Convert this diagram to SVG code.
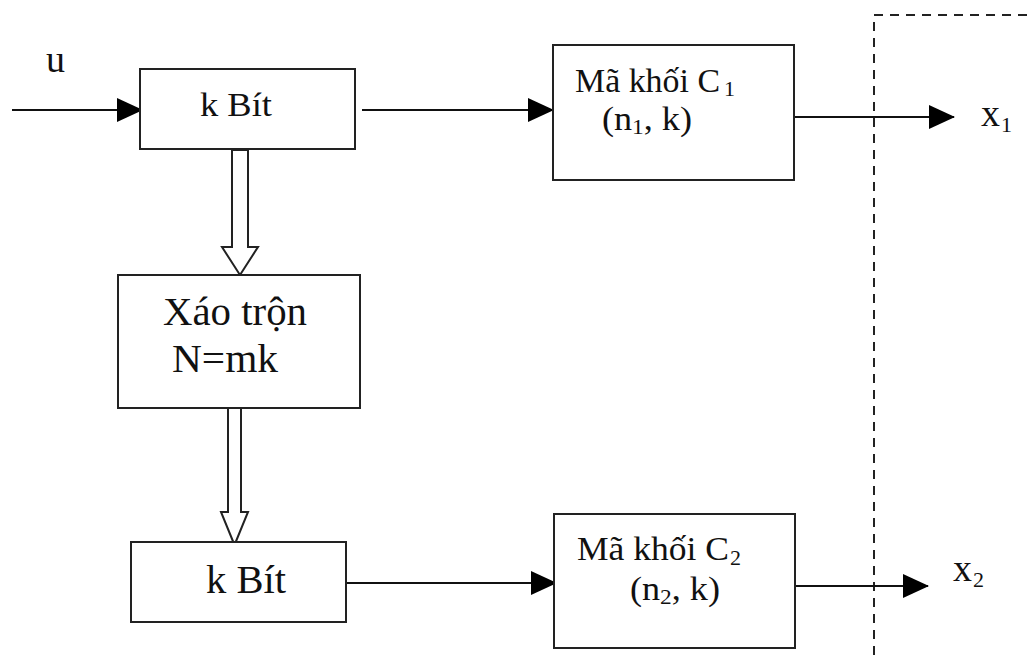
<svg xmlns="http://www.w3.org/2000/svg" width="1030" height="655" viewBox="0 0 1030 655">
  <style>
    .box { fill: #fff; stroke: #222; stroke-width: 2; }
    .wire { fill: none; stroke: #111; stroke-width: 2; }
    .hollow { fill: #fff; stroke: #222; stroke-width: 2; stroke-linejoin: miter; }
    .dash { fill: none; stroke: #222; stroke-width: 2; }
    text { font-family: "Liberation Serif", "Times New Roman", serif; fill: #111; }
    .lbl { font-size: 34px; }
    .big { font-size: 40px; }
    .var { font-size: 38px; }
    .sub { font-size: 22px; }
  </style>
  <defs>
    <marker id="arrow" markerUnits="userSpaceOnUse" markerWidth="26" markerHeight="24" refX="25" refY="12" orient="auto">
      <path d="M0,0 L26,12 L0,24 Z" fill="#000"/>
    </marker>
  </defs>

  <!-- dashed channel boundary -->
  <path class="dash" d="M874,655 L874,15 L1030,15" stroke-dasharray="9,7"/>

  <g id="connectors">
    <line class="wire" x1="12" y1="110" x2="142" y2="110" marker-end="url(#arrow)"/>
    <line class="wire" x1="362" y1="110" x2="553" y2="110" marker-end="url(#arrow)"/>
    <line class="wire" x1="794" y1="117" x2="954" y2="117" marker-end="url(#arrow)"/>
    <line class="wire" x1="346" y1="583" x2="556" y2="583" marker-end="url(#arrow)"/>
    <line class="wire" x1="795" y1="586" x2="928" y2="586" marker-end="url(#arrow)"/>
    <!-- hollow block arrows -->
    <path class="hollow" d="M232,150 L248,150 L248,247 L258,247 L240,275 L222,247 L232,247 Z"/>
    <path class="hollow" d="M228,408 L241,408 L241,512 L248,512 L234.5,545 L221,512 L228,512 Z"/>
  </g>

  <g id="input-label">
    <text class="var" x="46" y="72">u</text>
  </g>

  <g id="kbit-top">
    <rect class="box" x="140" y="69" width="215" height="80"/>
    <text class="lbl" x="200" y="116" textLength="72" lengthAdjust="spacingAndGlyphs">k Bít</text>
  </g>

  <g id="coder-c1">
    <rect class="box" x="553" y="45" width="241" height="135"/>
    <text class="lbl" x="575" y="92" textLength="145" lengthAdjust="spacingAndGlyphs">Mã khối C</text>
    <text class="sub" x="724" y="96">1</text>
    <text class="lbl" x="602" y="130" textLength="90" lengthAdjust="spacingAndGlyphs">(n<tspan class="sub" dy="4">1</tspan><tspan dy="-4">, k)</tspan></text>
  </g>

  <g id="output-x1">
    <text class="var" x="981" y="126">x</text>
    <text class="sub" x="1001" y="132">1</text>
  </g>

  <g id="interleaver">
    <rect class="box" x="118" y="275" width="242" height="133"/>
    <text class="big" x="163" y="325" textLength="144" lengthAdjust="spacingAndGlyphs">Xáo trộn</text>
    <text class="big" x="172" y="372" textLength="106" lengthAdjust="spacingAndGlyphs">N=mk</text>
  </g>

  <g id="kbit-bottom">
    <rect class="box" x="131" y="542" width="215" height="80"/>
    <text class="big" x="206" y="593" textLength="80" lengthAdjust="spacingAndGlyphs">k Bít</text>
  </g>

  <g id="coder-c2">
    <rect class="box" x="554" y="514" width="241" height="134"/>
    <text class="lbl" x="577" y="560" textLength="152" lengthAdjust="spacingAndGlyphs">Mã khối C</text>
    <text class="sub" x="730" y="565">2</text>
    <text class="lbl" x="630" y="600" textLength="90" lengthAdjust="spacingAndGlyphs">(n<tspan class="sub" dy="4">2</tspan><tspan dy="-4">, k)</tspan></text>
  </g>

  <g id="output-x2">
    <text class="var" x="953" y="581">x</text>
    <text class="sub" x="973" y="587">2</text>
  </g>
</svg>
